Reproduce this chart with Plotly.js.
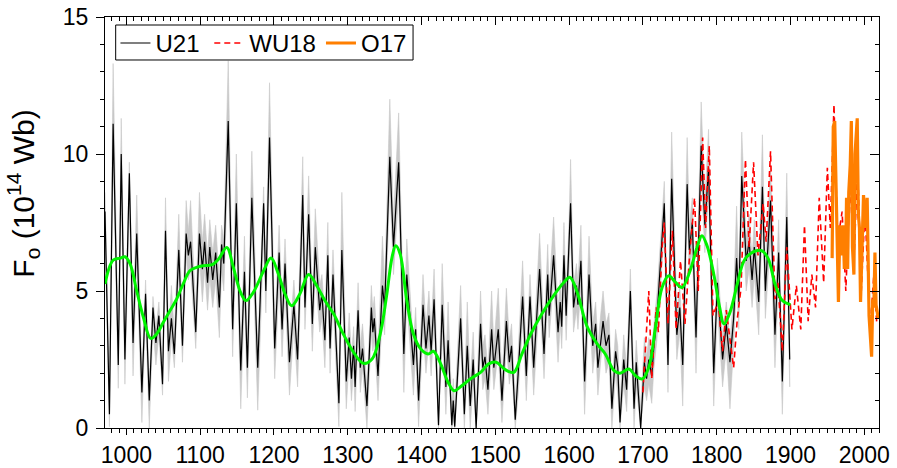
<!DOCTYPE html>
<html>
<head>
<meta charset="utf-8">
<script src="https://cdn.plot.ly/plotly-3.0.1.min.js"></script>
<style>
  html, body { margin: 0; padding: 0; background: #fff; }
  #chart { width: 897px; height: 468px; }
</style>
</head>
<body>
<div id="chart"></div>
<script>
// Open solar magnetic flux reconstructions, 10^14 Wb

// U21: reconstruction (turning points of the yearly series) with its uncertainty range
const u21Year = [971, 977, 982, 989, 993, 998, 1004, 1009, 1014, 1021, 1026, 1031, 1036, 1040, 1044, 1049, 1053, 1057, 1061, 1065, 1071, 1076, 1081, 1084, 1087, 1094, 1099, 1103, 1106, 1110, 1113, 1117, 1121,
  1126, 1129, 1132, 1138, 1144, 1149, 1155, 1160, 1164, 1170, 1178, 1186, 1189, 1194, 1201, 1207, 1211, 1215, 1221, 1227, 1232, 1239, 1242, 1247, 1252, 1256, 1262, 1265, 1269,
  1273, 1276, 1280, 1283, 1288, 1292, 1298, 1302, 1305, 1308, 1310, 1314, 1317, 1320, 1326, 1332, 1334, 1336, 1341, 1347, 1350, 1357, 1362, 1369, 1376, 1380, 1389, 1392, 1396, 1402, 1406, 1410, 1413, 1417, 1423,
  1428, 1433, 1436, 1441, 1443, 1445, 1453, 1458, 1462, 1466, 1470, 1474, 1480, 1483, 1486, 1490, 1495, 1498, 1504, 1509, 1515, 1519, 1522, 1527, 1531, 1537, 1542, 1547, 1552, 1560, 1566, 1571, 1573, 1579,
  1585, 1588, 1590, 1593, 1596, 1600, 1602, 1606, 1610, 1612, 1616, 1621, 1627, 1632, 1636, 1639, 1643, 1646, 1650, 1654, 1658, 1663, 1666, 1669, 1674, 1678, 1683, 1688, 1691, 1697, 1702, 1705, 1708, 1712, 1715, 1719, 1724, 1729,
  1734, 1739, 1746, 1750, 1754, 1760, 1763, 1767, 1772, 1779, 1784, 1789, 1796, 1801, 1808, 1813, 1818, 1823, 1827, 1830, 1834, 1840, 1844, 1848, 1851, 1857, 1862, 1866, 1873, 1879,
  1884, 1889, 1895, 1899];
const u21Flux = [7.9, 0.5, 11.1, 2.3, 10.0, 2.5, 9.3, 3.1, 7.1, 1.3, 4.9, 1.0, 4.4, 3.1, 4.1, 1.6, 7.2, 2.8, 4.0, 2.7, 6.5, 3.0, 7.1, 6.3, 6.8, 3.5, 7.1, 5.8, 6.8, 5.3, 6.6, 5.4, 6.4,
  4.4, 6.7, 6.0, 11.2, 3.6, 8.2, 2.1, 5.7, 2.2, 8.4, 2.2, 8.2, 5.0, 10.6, 2.9, 6.4, 3.6, 6.0, 2.4, 4.5, 2.5, 8.5, 4.4, 7.8, 3.8, 6.6, 4.3, 4.9, 3.2,
  6.3, 2.9, 5.6, 4.0, 0.9, 6.5, 1.7, 3.3, 1.8, 3.0, 1.5, 4.3, 2.2, 2.9, 0.8, 4.4, 3.5, 4.0, 1.9, 5.2, 4.4, 9.9, 6.6, 9.7, 2.7, 5.6, 2.3, 3.6, 1.0, 4.5, 2.9, 4.1, 2.8, 4.7, 0.1,
  4.5, 1.5, 3.2, 0.1, 1.0, 0.05, 4.0, 0.5, 3.0, 0.8, 2.5, 0.0, 3.8, 2.2, 2.6, 1.4, 3.6, 2.2, 3.6, 1.0, 3.9, 2.4, 3.0, 0.3, 2.0, 4.8, 1.9, 4.8, 2.2, 5.8, 2.7, 5.6, 4.1, 6.3,
  3.5, 4.6, 3.7, 6.3, 4.1, 6.6, 8.2, 4.4, 5.2, 4.5, 6.1, 1.7, 5.6, 3.0, 3.8, 2.2, 3.3, 3.9, 3.0, 3.4, 0.7, 2.8, 2.2, 0.2, 2.5, 1.4, 5.0, 0.7, 2.4, 0.0, 2.4, 1.8, 2.5, 1.9, 3.0, 4.0, 6.1, 8.2,
  2.3, 9.1, 3.4, 4.4, 2.3, 8.9, 6.5, 7.5, 3.3, 10.3, 7.4, 9.5, 2.0, 5.3, 2.5, 3.8, 2.4, 4.0, 6.2, 4.6, 9.2, 6.1, 6.8, 5.4, 6.6, 4.6, 8.8, 5.0, 8.3, 3.4,
  6.4, 1.7, 7.7, 2.5];
const u21Upper = [8.6, 1.3, 13.3, 3.0, 11.3, 3.2, 9.7, 3.8, 8.5, 2.0, 5.4, 1.6, 4.8, 3.6, 4.6, 2.3, 8.4, 3.4, 5.2, 3.4, 7.8, 3.8, 8.3, 7.2, 8.3, 4.3, 8.6, 6.8, 7.8, 6.3, 7.6, 6.4, 7.4,
  5.4, 7.4, 6.9, 13.4, 4.4, 10.0, 2.8, 7.0, 2.9, 10.1, 2.9, 8.8, 5.8, 12.6, 3.6, 7.4, 4.4, 6.9, 3.1, 5.4, 3.2, 9.9, 5.2, 9.2, 4.6, 8.0, 5.2, 5.6, 4.0,
  7.5, 3.7, 6.5, 4.7, 1.6, 8.6, 2.4, 4.2, 2.6, 3.7, 2.2, 5.3, 3.0, 3.8, 1.5, 5.2, 4.3, 4.8, 2.7, 7.0, 5.2, 12.0, 7.6, 11.5, 3.5, 6.9, 3.0, 4.4, 1.7, 5.6, 3.7, 5.0, 3.6, 5.8, 0.8,
  6.0, 2.3, 4.6, 0.8, 1.8, 0.7, 5.2, 1.2, 4.6, 1.6, 3.5, 0.7, 5.0, 3.0, 3.4, 2.1, 5.0, 3.0, 5.1, 1.7, 5.1, 3.2, 3.8, 1.0, 2.8, 6.1, 2.7, 5.6, 3.0, 7.1, 3.5, 6.7, 5.0, 7.7,
  4.3, 5.4, 4.5, 7.5, 4.9, 7.6, 9.8, 5.2, 6.0, 5.3, 7.4, 2.4, 7.0, 3.8, 4.6, 3.0, 4.2, 5.0, 3.8, 4.2, 1.4, 3.6, 3.0, 0.9, 3.4, 2.2, 5.8, 1.5, 3.2, 0.7, 3.3, 2.6, 3.3, 2.7, 3.8, 4.9, 6.9, 9.0,
  3.1, 10.8, 4.2, 5.2, 3.1, 10.6, 7.4, 8.4, 4.1, 11.9, 8.3, 10.9, 2.8, 6.2, 3.3, 4.6, 3.2, 4.8, 8.1, 5.4, 10.8, 6.9, 7.8, 6.2, 7.6, 5.4, 10.7, 5.8, 9.6, 4.2,
  7.6, 2.4, 9.3, 3.3];
const u21Lower = [7.0, 0.05, 10.2, 1.45, 9.0, 1.6, 8.2, 1.9, 6.2, 0.2, 4.2, 0.0, 3.7, 2.3, 3.4, 1.2, 6.3, 1.7, 3.3, 2.2, 5.7, 2.4, 6.3, 5.4, 5.8, 2.9, 6.2, 4.6, 5.8, 4.3, 5.5, 4.4, 5.4,
  3.3, 5.7, 5.0, 9.8, 2.6, 7.2, 0.7, 4.8, 1.1, 7.4, 0.65, 7.0, 4.2, 9.4, 1.8, 5.4, 2.6, 5.0, 1.2, 3.7, 1.5, 7.4, 3.6, 6.8, 2.8, 5.6, 3.5, 4.0, 2.2,
  5.4, 2.0, 4.6, 3.2, 0.05, 5.5, 0.7, 2.6, 1.0, 2.2, 0.6, 3.4, 1.3, 2.2, 0.0, 3.5, 2.8, 3.2, 1.0, 4.3, 3.4, 8.8, 5.6, 8.6, 1.3, 4.7, 1.2, 2.8, 0.05, 3.6, 2.0, 3.2, 1.9, 3.8, 0.0,
  3.6, 0.5, 2.4, 0.0, 0.3, 0.0, 3.1, 0.0, 2.2, 0.0, 1.7, 0.0, 2.9, 1.4, 1.8, 0.5, 2.8, 1.4, 2.8, 0.2, 3.0, 1.6, 2.2, 0.0, 1.2, 3.9, 1.0, 3.9, 1.2, 4.9, 1.8, 4.7, 3.3, 5.4,
  2.4, 3.8, 2.9, 5.4, 3.2, 5.6, 7.2, 3.5, 4.3, 3.6, 5.2, 0.5, 4.7, 2.0, 3.0, 1.2, 2.5, 3.1, 2.0, 2.4, 0.0, 2.0, 1.2, 0.0, 1.6, 0.6, 4.0, 0.0, 1.5, 0.0, 1.5, 1.0, 1.6, 0.9, 2.2, 3.2, 5.2, 7.2,
  1.3, 8.0, 2.5, 3.5, 0.8, 7.9, 5.6, 6.6, 2.0, 9.2, 6.4, 8.5, 0.8, 4.4, 1.5, 2.9, 0.7, 3.0, 5.3, 3.6, 8.1, 5.0, 5.8, 4.4, 5.6, 3.4, 7.7, 4.0, 7.0, 2.2,
  5.5, 0.5, 6.7, 1.5];

// U21 long-term smoothed curve
const smoothYear = [971, 982, 992, 998, 1005, 1014, 1023, 1033, 1041, 1050, 1059, 1068, 1077, 1086, 1095, 1104, 1116, 1125, 1136, 1145, 1154, 1162, 1172, 1186, 1196, 1206, 1215, 1224, 1235, 1247, 1258, 1269, 1281, 1294, 1308, 1321, 1333, 1344, 1353, 1360, 1365, 1371, 1380, 1389, 1399, 1409, 1416, 1425, 1436, 1444, 1455, 1466, 1480, 1491, 1501, 1514, 1525, 1536, 1548, 1563, 1579, 1593, 1601, 1611, 1624, 1638, 1649, 1661, 1669, 1681, 1690, 1699, 1708, 1717, 1726, 1735, 1744, 1753, 1764, 1774, 1780, 1787, 1796, 1804, 1810, 1818, 1828, 1837, 1846, 1861, 1870, 1879, 1889, 1900];
const smoothFlux = [5.26, 6.13, 6.2, 6.25, 5.99, 5.0, 4.04, 3.27, 3.43, 3.86, 4.28, 4.7, 5.26, 5.74, 5.86, 5.92, 5.96, 6.17, 6.59, 5.86, 5.0, 4.65, 4.95, 5.74, 6.2, 5.62, 4.89, 4.46, 4.89, 5.6, 5.19, 4.65, 4.16, 3.43, 2.76, 2.36, 2.52, 3.43, 4.89, 6.23, 6.65, 6.35, 4.65, 3.43, 2.88, 2.7, 2.8, 2.4, 1.67, 1.36, 1.55, 1.79, 2.03, 2.34, 2.4, 2.12, 2.03, 2.7, 3.43, 4.16, 4.83, 5.32, 5.5, 4.95, 3.73, 3.07, 2.7, 2.09, 2.0, 2.15, 1.91, 1.79, 2.21, 3.67, 5.13, 5.56, 5.32, 5.13, 5.74, 6.65, 7.02, 6.65, 5.62, 4.4, 3.8, 4.22, 5.26, 6.1, 6.37, 6.47, 6.17, 5.26, 4.65, 4.5];

// WU18 reconstruction
const wu18Year = [1700, 1708, 1712, 1718, 1721, 1726, 1729, 1734, 1740, 1745, 1751, 1757, 1763, 1770, 1775, 1781, 1785, 1790, 1795, 1802, 1808, 1813, 1823, 1828, 1833, 1839, 1844, 1850, 1856, 1863, 1867, 1873, 1879, 1883, 1889, 1895, 1902, 1908, 1914, 1919, 1924, 1929, 1934, 1939, 1945, 1950, 1954, 1959, 1964, 1970, 1975, 1981, 1986, 1991, 1996, 2001, 2008, 2013, 2017];
const wu18Flux = [1.3, 5.0, 1.8, 4.4, 3.5, 6.6, 7.5, 3.8, 7.2, 3.6, 6.1, 3.8, 6.2, 8.4, 5.0, 10.6, 7.3, 10.3, 4.1, 4.6, 2.8, 4.3, 2.2, 4.0, 5.1, 9.8, 6.6, 9.7, 6.3, 8.2, 6.8, 10.1, 4.7, 5.3, 2.8, 6.6, 3.6, 5.2, 3.6, 7.4, 3.9, 5.6, 4.4, 8.4, 5.3, 9.5, 7.3, 11.8, 6.8, 7.9, 5.0, 9.0, 6.0, 9.6, 5.0, 8.0, 3.6, 5.6, 3.8];

// O17 reconstruction
const o17Year = [1956.5, 1958, 1960, 1961.5, 1963, 1965, 1967, 1969, 1971.5, 1973, 1975, 1976, 1977.5, 1979, 1981, 1982.5, 1984, 1986, 1987.5, 1990.5, 1992, 1993.5, 1995, 1997, 1999, 2002, 2004, 2006.5, 2008.5, 2010, 2011.5, 2013, 2014.5, 2016, 2019];
const o17Flux = [6.2, 11.0, 11.2, 9.0, 6.5, 4.6, 7.4, 6.3, 7.4, 5.8, 6.5, 8.4, 5.8, 8.6, 9.6, 11.2, 6.6, 5.6, 10.0, 11.3, 7.8, 7.3, 4.6, 7.2, 8.5, 7.3, 8.4, 4.1, 2.9, 2.6, 4.7, 4.4, 6.4, 4.5, 4.0];

// Axis settings
const xRange = [971, 2020];
const yRange = [0, 15];
const xTickLabels = ['1000', '1100', '1200', '1300', '1400', '1500', '1600', '1700', '1800', '1900', '2000'];
const yTickLabels = ['0', '5', '10', '15'];

const FONT = 'Liberation Sans, Arial, Helvetica, sans-serif';

// closed polygon for the uncertainty band
const bandX = u21Year.concat(u21Year.slice().reverse());
const bandY = u21Upper.concat(u21Lower.slice().reverse());

const traces = [
  {
    x: bandX, y: bandY, type: 'scatter', mode: 'lines',
    fill: 'toself', fillcolor: 'rgb(200,200,200)',
    line: { width: 0.6, color: 'rgb(200,200,200)' },
    showlegend: false, hoverinfo: 'skip'
  },
  {
    x: u21Year, y: u21Flux, type: 'scatter', mode: 'lines', name: 'U21\u2009',
    line: { color: 'black', width: 1.2 }
  },
  {
    x: wu18Year, y: wu18Flux, type: 'scatter', mode: 'lines', name: 'WU18',
    line: { color: 'rgb(255,0,0)', width: 1.6, dash: '6px,4px' }
  },
  {
    x: o17Year, y: o17Flux, type: 'scatter', mode: 'lines', name: 'O17',
    line: { color: 'rgb(255,127,0)', width: 3.2 }
  },
  {
    x: smoothYear, y: smoothFlux, type: 'scatter', mode: 'lines',
    xaxis: 'x2', yaxis: 'y2',
    line: { color: 'rgb(0,245,0)', width: 3, shape: 'spline', smoothing: 1 },
    showlegend: false, hoverinfo: 'skip'
  }
];

const xTickVals = xTickLabels.map(Number);
const yTickVals = yTickLabels.map(Number);

const layout = {
  width: 897, height: 468,
  margin: { l: 105, r: 18, t: 17, b: 40, pad: 0 },
  paper_bgcolor: 'white', plot_bgcolor: 'white',
  font: { family: FONT, size: 23, color: 'black' },
  showlegend: true,
  legend: {
    orientation: 'h', x: 0.0135, y: 0.9905, xanchor: 'left', yanchor: 'top',
    bgcolor: 'rgba(0,0,0,0)', borderwidth: 0,
    font: { family: FONT, size: 24, color: 'black' },
    traceorder: 'normal'
  },
  // legend frame
  shapes: [{
    type: 'rect', xref: 'paper', yref: 'paper', layer: 'above',
    x0: 0.0138, x1: 0.398, y0: 0.8954, y1: 0.9805,
    line: { color: 'black', width: 1 }, fillcolor: 'white'
  }],
  xaxis: {
    range: xRange, autorange: false,
    tickvals: xTickVals, ticktext: xTickLabels,
    ticks: 'outside', ticklen: 6, tickwidth: 1, tickcolor: 'black',
    minor: { dtick: 10, tick0: 1000, ticks: 'outside', ticklen: 3.5, tickcolor: 'black', showgrid: false },
    showline: true, linecolor: 'black', linewidth: 1,
    showgrid: false, zeroline: false,
    tickfont: { family: FONT, size: 23, color: 'black' }
  },
  yaxis: {
    range: yRange, autorange: false,
    tickvals: yTickVals, ticktext: yTickLabels,
    ticks: 'outside', ticklen: 8, tickwidth: 1, tickcolor: 'black',
    ticklabelstandoff: 3,
    minor: { dtick: 1, tick0: 0, ticks: 'outside', ticklen: 4.5, tickcolor: 'black', showgrid: false },
    showline: true, linecolor: 'black', linewidth: 1,
    showgrid: false, zeroline: false,
    tickfont: { family: FONT, size: 23, color: 'black' }
  },
  xaxis2: {
    overlaying: 'x', side: 'top', anchor: 'y2',
    range: xRange, autorange: false,
    tickvals: xTickVals, showticklabels: false,
    ticks: 'inside', ticklen: 8, tickwidth: 1, tickcolor: 'black',
    minor: { dtick: 10, tick0: 1000, ticks: 'inside', ticklen: 4, tickcolor: 'black', showgrid: false },
    showline: true, linecolor: 'black', linewidth: 1,
    showgrid: false, zeroline: false
  },
  yaxis2: {
    overlaying: 'y', side: 'right', anchor: 'x2',
    range: yRange, autorange: false,
    tickvals: yTickVals, showticklabels: false,
    ticks: 'inside', ticklen: 9, tickwidth: 1, tickcolor: 'black',
    minor: { dtick: 1, tick0: 0, ticks: 'inside', ticklen: 4.5, tickcolor: 'black', showgrid: false },
    showline: true, linecolor: 'black', linewidth: 1,
    showgrid: false, zeroline: false
  },
  annotations: [{
    text: 'F<sub>o</sub> (10<sup>14</sup> Wb)',
    xref: 'paper', yref: 'paper',
    x: -0.106, y: 0.57, xanchor: 'center', yanchor: 'middle',
    textangle: -90, showarrow: false,
    font: { family: FONT, size: 30, color: 'black' }
  }]
};

Plotly.newPlot('chart', traces, layout, { displayModeBar: false, staticPlot: true });
</script>
</body>
</html>
